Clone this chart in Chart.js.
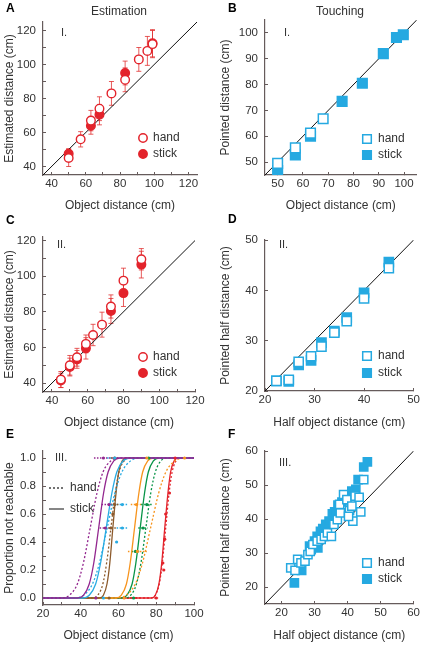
<!DOCTYPE html>
<html>
<head>
<meta charset="utf-8">
<script src="https://cdn.jsdelivr.net/npm/chart.js@4.4.0/dist/chart.umd.min.js"></script>
<style>
  body { margin: 0; background: #fff; width: 425px; height: 645px; position: relative; overflow: hidden; }
  canvas { position: absolute; }
</style>
</head>
<body>
<canvas id="cA" width="212" height="215" style="left:0;top:0"></canvas>
<canvas id="cB" width="213" height="215" style="left:212px;top:0"></canvas>
<canvas id="cC" width="212" height="220" style="left:0;top:212px"></canvas>
<canvas id="cD" width="213" height="220" style="left:212px;top:212px"></canvas>
<canvas id="cE" width="212" height="220" style="left:0;top:425px"></canvas>
<canvas id="cF" width="213" height="220" style="left:212px;top:425px"></canvas>
<script>
// ---- data ----
// A: estimation, condition I
const aHandX = [50, 57, 63, 68, 75, 83, 91, 96, 99];
const aHandY = [45, 56, 67, 74, 83, 91, 103, 108, 112];
const aHandErr = [5, 4.5, 6, 7, 7, 7, 7, 8.5, 8];
const aStickX = [50, 63, 68, 83, 99];
const aStickY = [47.5, 64, 70.5, 95, 112.5];
const aStickErr = [3, 5, 6, 7, 8];

// B: touching, condition I
const bHandX = [50, 57, 63, 68];
const bHandY = [49.5, 55.5, 61.2, 66.8];
const bStickX = [50, 57, 63, 75.5, 83.5, 91.8, 97, 99.7];
const bStickY = [46.7, 52.8, 60, 73.5, 80.5, 92, 98.2, 99.3];

// C: estimation, condition II
const cHandX = [45, 50, 54, 59, 63, 68, 73, 80, 90];
const cHandY = [42, 50, 54.5, 62, 67, 72.8, 83, 97.5, 109.5];
const cHandErr = [4.5, 5.5, 5, 5, 6, 7, 6.5, 7, 6];
const cStickX = [45, 50, 54, 59, 73, 80, 90];
const cStickY = [41.5, 49, 53.3, 59.5, 80.5, 90.5, 106.5];
const cStickErr = [4, 5, 5, 6, 7, 7.5, 7.5];

// D: touching, condition II (half distances)
const dHandX = [22.3, 24.8, 26.8, 29.3, 31.4, 34, 36.5, 40, 45];
const dHandY = [22, 22.2, 25.8, 26.9, 28.8, 31.6, 33.9, 38.4, 44.4];
const dStickX = [22.3, 24.8, 26.8, 29.3, 31.4, 34, 36.5, 40, 45];
const dStickY = [22, 21.9, 25.2, 26.1, 29.6, 31.9, 34.6, 39.5, 45.6];

// E: proportion not reachable, condition III
const eLevels = [0, 0, 0.02, 0.1, 0.25, 0.5, 0.75, 0.9, 0.98, 1, 1];
const ePurpleHand = [20, 29.6, 34, 38.2, 41.4, 45, 48.6, 51.8, 56, 60.4, 100];
const ePurpleStick = [20, 38.3, 41.5, 44.5, 46.9, 49.5, 52.1, 54.5, 57.5, 60.7, 100];
const eBlueHand = [20, 36.5, 41.5, 46.2, 49.9, 54, 58.1, 61.8, 66.5, 71.5, 100];
const eBlueStick = [20, 40.9, 44.5, 47.9, 50.5, 53.5, 56.5, 59.1, 62.5, 66.1, 100];
const eBrownHand = [20, 46.2, 49, 51.7, 53.7, 56, 58.3, 60.3, 63, 65.8, 100];
const eBrownStick = [20, 50, 52, 53.9, 55.4, 57, 58.7, 60.1, 62, 64, 100];
const eOrangeHand = [20, 58.8, 64, 68.9, 72.7, 77, 81.3, 85.1, 90, 95.2, 100];
const eOrangeStick = [20, 58.7, 61.5, 64.2, 66.2, 68.5, 70.8, 72.8, 75.5, 78.3, 100];
const eGreenHand = [20, 63.3, 66.5, 69.5, 71.9, 74.5, 77.1, 79.5, 82.5, 85.7, 100];
const eGreenStick = [20, 61.7, 64.5, 67.2, 69.2, 71.5, 73.8, 75.8, 78.5, 81.3, 100];
const eRedHand = [20, 77.3, 79.5, 81.6, 83.2, 85, 86.8, 88.4, 90.5, 92.7, 100];
const eRedStick = [20, 77.5, 79.5, 81.4, 82.9, 84.5, 86.2, 87.6, 89.5, 91.5, 100];
// measured points with horizontal spread
const ePurpleDotX = [52, 55, 53, 48];
const ePurpleDotY = [1, 0.667, 0.5, 0];
const ePurpleDotErr = [5, 4, 3, 3];
const eBlueDotX = [58, 62, 62, 59, 52];
const eBlueDotY = [1, 0.667, 0.5, 0.4, 0];
const eBlueDotErr = [4, 3, 3, 0, 3];
const eBrownDotX = [58, 58, 57, 56, 55];
const eBrownDotY = [1, 0.667, 0.6, 0.5, 0];
const eBrownDotErr = [2, 2, 0, 3, 2];
const eOrangeDotX = [75, 69.5, 70, 63, 95];
const eOrangeDotY = [1, 0.667, 0.333, 0, 1];
const eOrangeDotErr = [6, 3, 5, 3, 4];
const eGreenDotX = [76, 75, 73, 69, 68];
const eGreenDotY = [1, 0.667, 0.5, 0.333, 0];
const eGreenDotErr = [3, 3, 2.5, 2, 2];
const eRedDotX = [90, 87, 85, 84.5, 83.5, 84, 80];
const eRedDotY = [1, 0.75, 0.6, 0.42, 0.25, 0.2, 0];
const eRedDotErr = [1, 0, 0, 0, 0, 0, 1];

// F: touching, condition III (half distances)
const fHandX = [22.8, 24.1, 24.9, 25.9, 27.1, 28, 28.7, 29.5, 30.8, 32, 33, 33.9, 35.1, 35.9, 36.9, 37.8, 37.6, 38.8, 39.8, 40.6, 41.3, 41.6, 42.3, 43.5, 44, 44.9, 40.3];
const fHandY = [25.6, 24.9, 28.1, 27.1, 27.6, 29.5, 30.5, 32.5, 33.5, 34, 34.9, 35.9, 34.9, 38.4, 39.8, 41.8, 44.3, 47.2, 45.7, 42.5, 43.8, 39.4, 46.7, 46.4, 42.1, 51.6, 40.8];
const fStickX = [23.9, 26.1, 28.5, 29, 30, 30.8, 31, 31.8, 32.5, 33.4, 34.4, 35.4, 36.1, 37.1, 38.3, 39.3, 41.3, 42.5, 43.2, 44.9, 46];
const fStickY = [21.2, 24.9, 32, 31, 33.5, 34.9, 31.5, 36.4, 37.2, 38.4, 39.4, 41.5, 42.1, 44.1, 45, 45.7, 48.2, 48.7, 51.6, 55.3, 56.8];

// axis ticks
const abTicks = [40, 50, 60, 70, 80, 90, 100, 110, 120];
const abLabels = [40, 60, 80, 100, 120];
const bTicks = [50, 60, 70, 80, 90, 100];
const dTicks = [20, 30, 40, 50];
const eXTicks = [20, 30, 40, 50, 60, 70, 80, 90, 100];
const eXLabels = [20, 40, 60, 80, 100];
const eYTicks = [0, 0.1, 0.2, 0.3, 0.4, 0.5, 0.6, 0.7, 0.8, 0.9, 1];
const eYLabels = [0, 0.2, 0.4, 0.6, 0.8, 1];
const fTicks = [20, 30, 40, 50, 60];

// ---- styling ----
const RED = '#e3232b';
const RED_ERR = 'rgba(225,50,50,0.8)';
const BLUE = '#25a9e1';
const PURPLE = '#93278f';
const CYAN = '#29abe2';
const BROWN = '#8c5a2b';
const ORANGE = '#f7941d';
const GREEN = '#079447';
const AXIS = '#665b5b';
const TXT = '#333';

Chart.defaults.font.family = "'Liberation Sans', Arial, sans-serif";
Chart.defaults.color = TXT;

const pts = (xs, ys) => xs.map((x, i) => ({ x: x, y: ys[i] }));

function axis(pos, min, max, ticks, labels, title, size, fmt) {
  return {
    type: 'linear', position: pos, min: min, max: max,
    afterBuildTicks: s => { s.ticks = ticks.map(v => ({ value: v })); },
    afterFit: s => { if (pos === 'left') s.width = size; else s.height = size; },
    ticks: {
      autoSkip: false, maxRotation: 0, padding: pos === 'left' ? 10 : 5,
      font: { size: 11.5 }, color: TXT,
      callback: v => labels.includes(v) ? (fmt ? fmt(v) : String(v)) : ''
    },
    // small tick marks pointing into the plot
    grid: { drawOnChartArea: false, drawTicks: true, tickLength: -3, color: AXIS },
    border: { display: true, color: AXIS, width: 1.2 },
    title: { display: true, text: title, font: { size: 12 }, color: TXT, padding: { top: 2, bottom: 2 } }
  };
}

// error bars, panel texts and in-plot legends
const decor = {
  id: 'decor',
  beforeDatasetsDraw(chart) {
    const ctx = chart.ctx, xs = chart.scales.x, ys = chart.scales.y;
    ctx.save();
    chart.data.datasets.forEach(ds => {
      if (!ds.yErr && !ds.xErr) return;
      ctx.strokeStyle = ds.errColor || ds.pointBorderColor;
      ctx.lineWidth = ds.xErr ? 1.5 : 1;
      ctx.setLineDash(ds.xErr ? [1.5, 1.5] : []);
      ds.data.forEach((p, j) => {
        const px = xs.getPixelForValue(p.x), py = ys.getPixelForValue(p.y);
        ctx.beginPath();
        if (ds.yErr) {
          const t = ys.getPixelForValue(p.y + ds.yErr[j]), b = ys.getPixelForValue(p.y - ds.yErr[j]);
          ctx.moveTo(px, t); ctx.lineTo(px, b);
          ctx.moveTo(px - 2.5, t); ctx.lineTo(px + 2.5, t);
          ctx.moveTo(px - 2.5, b); ctx.lineTo(px + 2.5, b);
        } else if (ds.xErr[j]) {
          ctx.moveTo(xs.getPixelForValue(p.x - ds.xErr[j]), py);
          ctx.lineTo(xs.getPixelForValue(p.x + ds.xErr[j]), py);
        }
        ctx.stroke();
      });
    });
    ctx.restore();
  },
  afterDraw(chart, args, o) {
    const ctx = chart.ctx;
    ctx.save();
    ctx.textBaseline = 'middle';
    (o.texts || []).forEach(t => {
      ctx.font = (t.bold ? 'bold ' : '') + (t.size || 12) + "px 'Liberation Sans', Arial, sans-serif";
      ctx.fillStyle = t.color || TXT;
      ctx.textAlign = t.align || 'left';
      ctx.fillText(t.text, t.x, t.y);
    });
    (o.legend || []).forEach(it => {
      ctx.strokeStyle = it.color;
      ctx.fillStyle = it.filled ? it.color : '#fff';
      ctx.lineWidth = it.kind === 'line' ? 1.3 : 1.5;
      ctx.setLineDash(it.dash || []);
      ctx.beginPath();
      if (it.kind === 'circle') {
        ctx.arc(it.x, it.y, 4.2, 0, Math.PI * 2);
        ctx.fill(); ctx.stroke();
      } else if (it.kind === 'square') {
        ctx.rect(it.x - 4.3, it.y - 4.3, 8.6, 8.6);
        ctx.fill(); ctx.stroke();
      } else {
        ctx.moveTo(it.x - 8, it.y); ctx.lineTo(it.x + 7, it.y);
        ctx.stroke();
      }
      ctx.setLineDash([]);
      ctx.font = "12px 'Liberation Sans', Arial, sans-serif";
      ctx.fillStyle = TXT;
      ctx.textAlign = 'left';
      ctx.fillText(it.label, it.tx, it.y);
    });
    ctx.restore();
  }
};

function diag(lo, hi) {
  return { data: [{ x: lo, y: lo }, { x: hi, y: hi }], showLine: true, borderColor: '#111',
           borderWidth: 1, pointRadius: 0, fill: false };
}

function makeChart(id, datasets, scales, padding, decorOpts) {
  return new Chart(document.getElementById(id), {
    type: 'scatter',
    data: { datasets: datasets },
    options: {
      responsive: false, animation: false,
      layout: { padding: padding },
      scales: scales,
      plugins: { legend: { display: false }, tooltip: { enabled: false }, decor: decorOpts }
    },
    plugins: [decor]
  });
}

function circles(xs, ys, errs, filled) {
  return { data: pts(xs, ys), yErr: errs, errColor: RED_ERR, pointStyle: 'circle', pointRadius: 4.3,
           pointBorderWidth: 1.4, pointBorderColor: RED, pointBackgroundColor: filled ? RED : '#fff', showLine: false };
}
function squares(xs, ys, r, filled) {
  return { data: pts(xs, ys), pointStyle: 'rect', pointRadius: r, pointBorderWidth: 1.5,
           pointBorderColor: BLUE, pointBackgroundColor: filled ? BLUE : '#fff', showLine: false };
}
function redLegend(x, y1, y2) {
  return [{ kind: 'circle', label: 'hand', x: x, y: y1, tx: x + 10, color: RED, filled: false },
          { kind: 'circle', label: 'stick', x: x, y: y2, tx: x + 10, color: RED, filled: true }];
}
function blueLegend(x, y1, y2) {
  return [{ kind: 'square', label: 'hand', x: x, y: y1, tx: x + 11, color: BLUE, filled: false },
          { kind: 'square', label: 'stick', x: x, y: y2, tx: x + 11, color: BLUE, filled: true }];
}

// A
makeChart('cA',
  [circles(aHandX, aHandY, aHandErr, false), circles(aStickX, aStickY, aStickErr, true), diag(35, 125)],
  { x: axis('bottom', 35, 125, abTicks, abLabels, 'Object distance (cm)', 40),
    y: axis('left', 35, 125, abTicks, abLabels, 'Estimated distance (cm)', 43) },
  { left: 0, top: 22, right: 15, bottom: 0 },
  { texts: [{ text: 'A', x: 6, y: 9, bold: true, color: '#000' },
            { text: 'Estimation', x: 119, y: 12, align: 'center' },
            { text: 'I.', x: 61, y: 33, size: 11 }],
    legend: redLegend(143, 138, 154) });

// B
makeChart('cB',
  [squares(bHandX, bHandY, 6.8, false), squares(bStickX, bStickY, 6.8, true), diag(45, 105)],
  { x: axis('bottom', 45, 105, bTicks, bTicks, 'Object distance (cm)', 40),
    y: axis('left', 45, 105, bTicks, bTicks, 'Pointed distance (cm)', 49) },
  { left: 4, top: 20, right: 7, bottom: 0 },
  { texts: [{ text: 'B', x: 16, y: 9, bold: true, color: '#000' },
            { text: 'Touching', x: 128, y: 12, align: 'center' },
            { text: 'I.', x: 72, y: 33, size: 11 }],
    legend: blueLegend(155, 139, 155) });

// C
makeChart('cC',
  [circles(cHandX, cHandY, cHandErr, false), circles(cStickX, cStickY, cStickErr, true), diag(35, 120)],
  { x: axis('bottom', 35, 120, abTicks, abLabels, 'Object distance (cm)', 40),
    y: axis('left', 35, 122, abTicks, abLabels, 'Estimated distance (cm)', 43) },
  { left: 0, top: 25, right: 17, bottom: 0 },
  { texts: [{ text: 'C', x: 6, y: 9, bold: true, color: '#000' },
            { text: 'II.', x: 57, y: 33, size: 11 }],
    legend: redLegend(143, 145, 161) });

// D
makeChart('cD',
  [squares(dHandX, dHandY, 6.5, false), squares(dStickX, dStickY, 6.5, true), diag(20, 50)],
  { x: axis('bottom', 20, 50, dTicks, dTicks, 'Half object distance (cm)', 41),
    y: axis('left', 20, 50, dTicks, dTicks, 'Pointed half distance (cm)', 49) },
  { left: 4, top: 28, right: 9, bottom: 0 },
  { texts: [{ text: 'D', x: 16, y: 8, bold: true, color: '#000' },
            { text: 'II.', x: 67, y: 33, size: 11 }],
    legend: blueLegend(155, 144, 161) });

// E
function curve(xs, color, hand) {
  return { data: pts(xs, eLevels), showLine: true, borderColor: color, borderWidth: 1.3,
           borderDash: hand ? [2, 2] : [], pointRadius: 0, cubicInterpolationMode: 'monotone', fill: false };
}
function dots(xs, ys, errs, color) {
  return { data: pts(xs, ys), xErr: errs, errColor: color, pointStyle: 'circle', pointRadius: 1.6,
           pointBorderWidth: 0, pointBackgroundColor: color, showLine: false };
}
makeChart('cE',
  [dots(ePurpleDotX, ePurpleDotY, ePurpleDotErr, PURPLE), dots(eBlueDotX, eBlueDotY, eBlueDotErr, CYAN),
   dots(eBrownDotX, eBrownDotY, eBrownDotErr, BROWN), dots(eOrangeDotX, eOrangeDotY, eOrangeDotErr, ORANGE),
   dots(eGreenDotX, eGreenDotY, eGreenDotErr, GREEN), dots(eRedDotX, eRedDotY, eRedDotErr, RED),
   curve(ePurpleHand, PURPLE, true), curve(ePurpleStick, PURPLE, false),
   curve(eBlueHand, CYAN, true), curve(eBlueStick, CYAN, false),
   curve(eBrownHand, BROWN, true), curve(eBrownStick, BROWN, false),
   curve(eOrangeHand, ORANGE, true), curve(eOrangeStick, ORANGE, false),
   curve(eGreenHand, GREEN, true), curve(eGreenStick, GREEN, false),
   curve(eRedHand, RED, true), curve(eRedStick, RED, false)],
  { x: axis('bottom', 20, 100, eXTicks, eXLabels, 'Object distance (cm)', 40),
    y: axis('left', -0.05, 1.05, eYTicks, eYLabels, 'Proportion not reachable', 43, v => v.toFixed(1)) },
  { left: 0, top: 26, right: 18, bottom: 0 },
  { texts: [{ text: 'E', x: 6, y: 10, bold: true, color: '#000' },
            { text: 'III.', x: 55, y: 33, size: 11 }],
    legend: [{ kind: 'line', label: 'hand', x: 57, y: 63, tx: 70, color: '#444', dash: [2, 2] },
             { kind: 'line', label: 'stick', x: 57, y: 84, tx: 70, color: '#444' }] });

// F
makeChart('cF',
  [squares(fHandX, fHandY, 5.8, false), squares(fStickX, fStickY, 5.8, true), diag(15, 60)],
  { x: axis('bottom', 15, 60, fTicks, fTicks, 'Half object distance (cm)', 41),
    y: axis('left', 15, 60, fTicks, fTicks, 'Pointed half distance (cm)', 49) },
  { left: 4, top: 26, right: 9, bottom: 0 },
  { texts: [{ text: 'F', x: 16, y: 10, bold: true, color: '#000' },
            { text: 'III.', x: 67, y: 38, size: 11 }],
    legend: blueLegend(155, 138, 154) });
</script>
</body>
</html>
